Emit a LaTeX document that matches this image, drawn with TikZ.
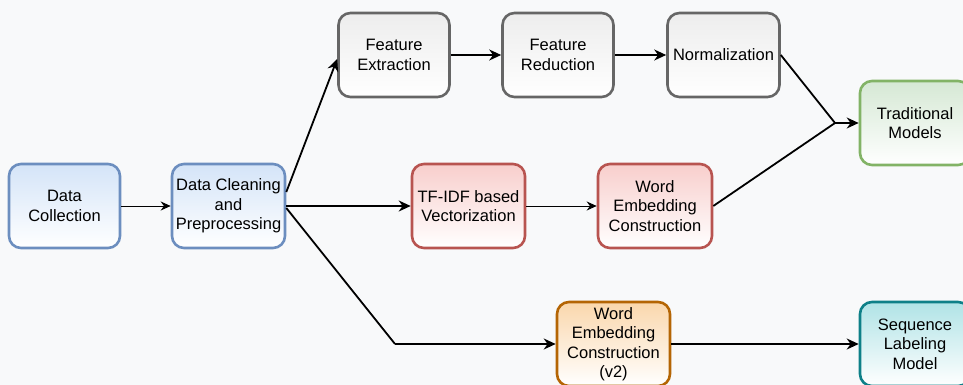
\documentclass[tikz,border=0pt]{standalone}
\usepackage{fontspec}
\setmainfont{Liberation Sans}
\usetikzlibrary{arrows.meta,calc}
\definecolor{bg}{HTML}{F8F9FA}
\definecolor{blueB}{HTML}{6C8EBF}\definecolor{blueF}{HTML}{D4E4F8}
\definecolor{grayB}{HTML}{666666}\definecolor{grayF}{HTML}{EDEDED}
\definecolor{redB}{HTML}{B85450}\definecolor{redF}{HTML}{F8CECC}
\definecolor{greenB}{HTML}{82B366}\definecolor{greenF}{HTML}{D5E8D4}
\definecolor{orangeB}{HTML}{B46504}\definecolor{orangeF}{HTML}{FAD7AC}
\definecolor{tealB}{HTML}{0E8088}\definecolor{tealF}{HTML}{B0E3E6}
\tikzset{
  box/.style={draw, line width=2.6pt, rounded corners=12pt, align=center,
    font=\fontsize{16.5}{19.5}\selectfont, inner sep=1pt,
    minimum height=84pt, bottom color=white},
  bluebox/.style={box, draw=blueB, top color=blueF, minimum width=111pt},
  graybox/.style={box, draw=grayB, top color=grayF, minimum width=111pt},
  redbox/.style={box, draw=redB, top color=redF, minimum width=113pt},
  greenbox/.style={box, draw=greenB, top color=greenF, minimum width=110pt},
  orangebox/.style={box, draw=orangeB, top color=orangeF, minimum width=113pt},
  tealbox/.style={box, draw=tealB, top color=tealF, minimum width=110pt},
  thin arrow/.style={draw=black, line width=1pt, -{Stealth[length=10pt,width=9pt]}},
  thick arrow/.style={draw=black, line width=1.8pt, -{Stealth[length=12pt,width=11pt]}},
  thick line/.style={draw=black, line width=1.8pt},
}
\begin{document}
\begin{tikzpicture}[x=1pt,y=-1pt]
\fill[bg] (0,0) rectangle (963,385);
\useasboundingbox (0,0) rectangle (963,385);
\begin{scope}
\clip (0,0) rectangle (963,385);
\node[bluebox] (dc) at (64.5,206) {Data\\Collection};
\node[bluebox, minimum width=113pt] (clean) at (228.5,206) {Data Cleaning\\and\\Preprocessing};
\node[graybox] (fe) at (394,55) {Feature\\Extraction};
\node[graybox] (fr) at (558,55) {Feature\\Reduction};
\node[graybox, minimum width=112pt] (norm) at (723.5,55) {Normalization};
\node[greenbox] (trad) at (915,123) {Traditional\\Models};
\node[redbox] (tfidf) at (468.5,206) {TF-IDF based\\Vectorization};
\node[redbox, minimum width=114pt] (we) at (655,206) {Word\\Embedding\\Construction};
\node[orangebox] (we2) at (613.5,344) {Word\\Embedding\\Construction\\(v2)};
\node[tealbox] (seq) at (915,344) {Sequence\\Labeling\\Model};
\end{scope}
\coordinate (join) at (835,123);
\coordinate (bend) at (395,344);
\draw[thin arrow] (dc) -- (clean);
\draw[thick arrow] ($(clean.east)+(0,-14)$) -- ($(fe.west)+(0,4)$);
\draw[thick arrow] (clean.east) -- (tfidf.west);
\draw[thick line] ($(clean.east)+(0,2)$) -- (bend);
\draw[thick arrow] (bend) -- (we2.west);
\draw[thin arrow] (tfidf) -- (we);
\draw[thick arrow] (fe) -- (fr);
\draw[thick arrow] (fr) -- (norm);
\draw[thick line] (norm.east) -- (join);
\draw[thick line] (we.east) -- (join);
\draw[thick arrow] (join) -- (trad.west);
\draw[thick arrow] (we2.east) -- (seq.west);
\end{tikzpicture}
\end{document}
